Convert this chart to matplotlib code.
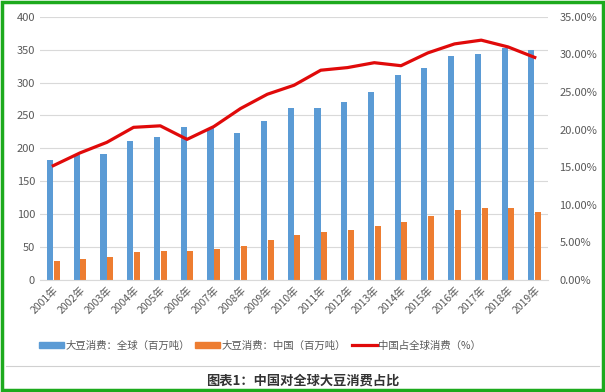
import matplotlib
matplotlib.use("Agg")
import matplotlib.pyplot as plt
import matplotlib.ticker as mticker
from matplotlib.patches import Rectangle
from matplotlib.lines import Line2D
import numpy as np

plt.rcParams["font.family"] = ["Noto Sans CJK SC", "DejaVu Sans"]

YEARS = [f"{y}年" for y in range(2001, 2020)]
WORLD = [182, 190, 191, 211, 218, 232, 231, 224, 241, 261,
         262, 270, 285, 312, 322, 341, 344, 352, 349]
CHINA = [28, 32, 35, 43, 44, 44, 47, 52, 61, 68,
         73, 76, 82, 88, 97, 106, 109, 109, 103]
SHARE = [15.2, 16.9, 18.3, 20.3, 20.5, 18.7, 20.4, 22.8, 24.7, 25.9,
         27.9, 28.25, 28.9, 28.5, 30.2, 31.4, 31.9, 31.0, 29.6]

BLUE = "#5B9BD5"
ORANGE = "#ED7D31"
RED = "#E00A0A"
GREY = "#595959"

fig = plt.figure(figsize=(6.05, 3.92), dpi=100)
ax = fig.add_axes([0.066, 0.286, 0.840, 0.671])

x = np.arange(len(YEARS))
w = 0.23
ax.bar(x - 0.125, WORLD, w, color=BLUE, zorder=2)
ax.bar(x + 0.125, CHINA, w, color=ORANGE, zorder=2)
ax.set_xlim(-0.5, len(YEARS) - 0.5)
ax.set_ylim(0, 400)
ax.set_yticks(range(0, 401, 50))
ax.grid(axis="y", color="#D9D9D9", linewidth=0.8, zorder=0)
for s in ["top", "right", "left"]:
    ax.spines[s].set_visible(False)
ax.spines["bottom"].set_color("#D9D9D9")
ax.tick_params(axis="both", length=0, labelsize=8, colors=GREY)
ax.set_xticks(x)
ax.set_xticklabels(YEARS, rotation=45, ha="right", rotation_mode="anchor", fontsize=7.5)

ax2 = ax.twinx()
ax2.plot(x, SHARE, color=RED, linewidth=2.3, zorder=3)
ax2.set_ylim(0, 35)
ax2.set_yticks(range(0, 36, 5))
ax2.yaxis.set_major_formatter(mticker.FuncFormatter(lambda v, _: f"{v:.2f}%"))
for s in ax2.spines.values():
    s.set_visible(False)
ax2.tick_params(axis="y", length=0, labelsize=8, colors=GREY, pad=8)

handles = [
    Rectangle((0, 0), 1, 1, color=BLUE),
    Rectangle((0, 0), 1, 1, color=ORANGE),
    Line2D([], [], color=RED, linewidth=2.3),
]
labels = ["大豆消费：全球（百万吨）", "大豆消费：中国（百万吨）", "中国占全球消费（%）"]
fig.legend(handles, labels, loc="center", bbox_to_anchor=(0.43, 0.118), ncol=3,
           frameon=False, fontsize=7.5, handlelength=2.4, handleheight=0.6,
           handletextpad=0.15, columnspacing=0.5, labelcolor=GREY)

# separator line and caption
fig.add_artist(Line2D([0.01, 0.99], [0.066, 0.066], color="#D0D0D0", linewidth=0.8))
fig.text(0.5, 0.028, "图表1：中国对全球大豆消费占比", ha="center", va="center",
         fontsize=9.5, fontweight="bold", color="#333333")

# green frame
fig.add_artist(Rectangle((0.003, 0.004), 0.994, 0.992, transform=fig.transFigure,
                         fill=False, edgecolor="#1DAA1D", linewidth=2.5))

fig.savefig("out.png", dpi=100)
